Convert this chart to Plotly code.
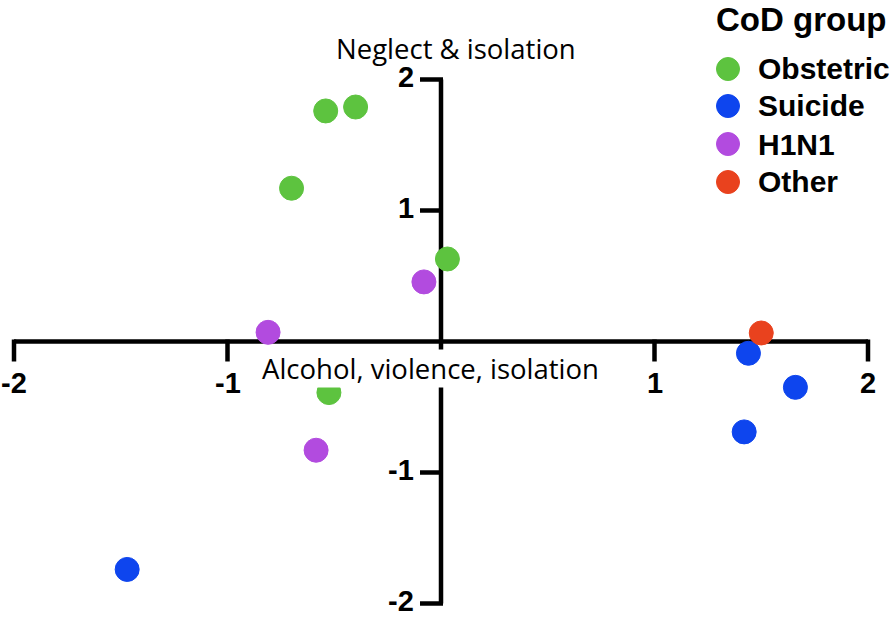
import plotly.graph_objects as go

groups = ["Obstetric", "Suicide", "H1N1", "Other"]
colors = ["#5DC33F", "#0E45EE", "#B24BDF", "#E9421E"]

obstetric_x = [-0.54, -0.40, -0.70, 0.03, -0.525]
obstetric_y = [1.76, 1.79, 1.17, 0.63, -0.39]
suicide_x = [1.44, 1.66, 1.42, -1.47]
suicide_y = [-0.09, -0.35, -0.69, -1.74]
h1n1_x = [-0.08, -0.81, -0.585]
h1n1_y = [0.455, 0.07, -0.83]
other_x = [1.50]
other_y = [0.065]

series_x = [obstetric_x, suicide_x, h1n1_x, other_x]
series_y = [obstetric_y, suicide_y, h1n1_y, other_y]

tick_vals = [-2, -1, 1, 2]
tick_text = ["-2", "-1", "1", "2"]

W, H = 896, 618
BOLD = "Liberation Sans, Arial, sans-serif"
LABEL = "Open Sans, Noto Sans, sans-serif"

fig = go.Figure()
for name, col, xs, ys in zip(groups, colors, series_x, series_y):
    fig.add_trace(go.Scatter(
        x=xs, y=ys, mode="markers", name=name, showlegend=False,
        marker=dict(size=24, color=col, line=dict(width=1, color=col)),
    ))

shapes = []
annotations = []
lw = 4.5
# axes through the origin
shapes.append(dict(type="line", x0=-2, x1=2, y0=0, y1=0, line=dict(color="black", width=lw), layer="below"))
shapes.append(dict(type="line", x0=0, x1=0, y0=-2, y1=2, line=dict(color="black", width=lw), layer="below"))
tick_font = dict(family=BOLD, size=29, color="black", weight="bold")
for v, t in zip(tick_vals, tick_text):
    shapes.append(dict(type="line", xref="x", yref="y", x0=v, x1=v,
                       ysizemode="pixel", yanchor=0, y0=2, y1=-20,
                       line=dict(color="black", width=lw), layer="below"))
    shapes.append(dict(type="line", xref="x", yref="y", y0=v, y1=v,
                       xsizemode="pixel", xanchor=0, x0=-21, x1=2,
                       line=dict(color="black", width=lw), layer="below"))
    annotations.append(dict(x=v, y=0, xref="x", yref="y", text=t, showarrow=False,
                            xanchor="center", yanchor="middle", yshift=-41, borderpad=0,
                            font=tick_font))
    annotations.append(dict(x=0, y=v, xref="x", yref="y", text=t, showarrow=False,
                            xanchor="right", yanchor="middle", xshift=-26, yshift=3,
                            borderpad=0, font=tick_font))

annotations.append(dict(x=0.07, y=2, xref="x", yref="y", text="Neglect & isolation",
                        showarrow=False, xanchor="center", yanchor="middle", yshift=31,
                        borderpad=0, font=dict(family=LABEL, size=27.5, color="black")))
annotations.append(dict(x=-0.047, y=0, xref="x", yref="y", text="Alcohol, violence, isolation",
                        showarrow=False, xanchor="center", yanchor="middle", yshift=-27,
                        bgcolor="white", borderpad=0,
                        font=dict(family=LABEL, size=27.5, color="black")))

# legend (drawn as circles + text in pixel positions of the figure)
annotations.append(dict(x=715 / W, y=1 - 19 / H, xref="paper", yref="paper", text="CoD group",
                        showarrow=False, xanchor="left", yanchor="middle", borderpad=0,
                        font=dict(family=BOLD, size=33, color="black", weight="bold")))
leg_y = [69, 106, 144, 182]
for name, col, py in zip(groups, colors, leg_y):
    shapes.append(dict(type="circle", xref="paper", yref="paper",
                       xsizemode="pixel", ysizemode="pixel",
                       xanchor=728 / W, yanchor=1 - py / H,
                       x0=-11.5, x1=11.5, y0=-11.5, y1=11.5,
                       fillcolor=col, line=dict(color=col, width=1)))
    annotations.append(dict(x=757 / W, y=1 - py / H, xref="paper", yref="paper", text=name,
                            showarrow=False, xanchor="left", yanchor="middle", borderpad=0,
                            font=dict(family=BOLD, size=30, color="black", weight="bold")))

fig.update_layout(
    width=W, height=H,
    margin=dict(l=0, r=0, t=0, b=0),
    paper_bgcolor="white", plot_bgcolor="white",
    xaxis=dict(range=[-441 / 213.5, 455 / 213.5], visible=False, fixedrange=True),
    yaxis=dict(range=[-276.5 / 131, 341.5 / 131], visible=False, fixedrange=True),
    shapes=shapes,
    annotations=annotations,
    showlegend=False,
)

fig.write_html("out.html", config={"displayModeBar": False},
               post_script="document.body.style.margin='0px';")
